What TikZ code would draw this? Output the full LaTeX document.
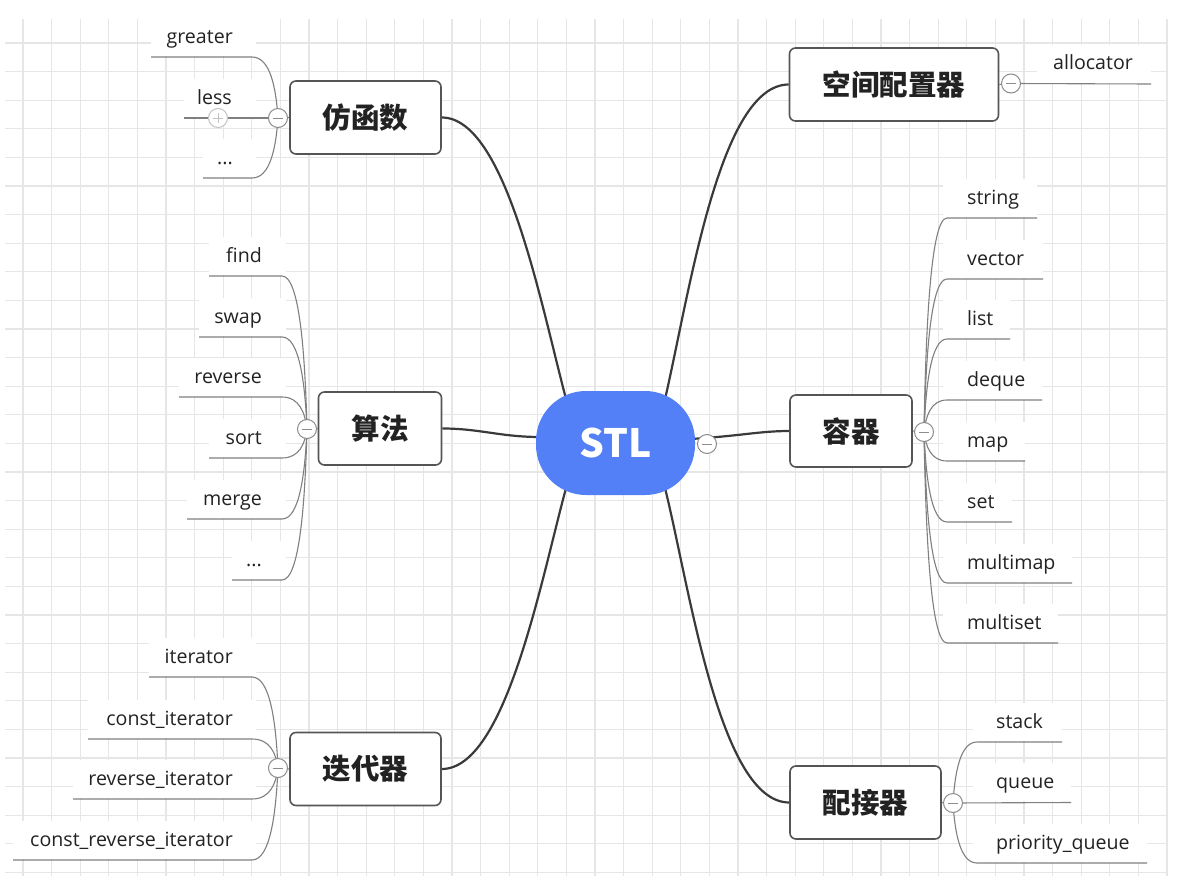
\documentclass[tikz,border=0pt]{standalone}
\usepackage{fontspec}
\newfontfamily\cjk{Noto Sans CJK SC}
\newfontfamily\leaffont{Open Sans}
\usetikzlibrary{calc}
\definecolor{gridc}{RGB}{230,230,230}
\definecolor{connc}{RGB}{58,58,58}
\definecolor{leafc}{RGB}{128,128,128}
\definecolor{boxc}{RGB}{85,85,85}
\definecolor{togc}{RGB}{140,140,140}
\definecolor{plusc}{RGB}{195,195,195}
\definecolor{textc}{RGB}{34,34,34}
\definecolor{stlblue}{RGB}{83,128,246}
\pgfdeclarelayer{gridlayer}
\pgfdeclarelayer{linelayer}
\pgfsetlayers{gridlayer,linelayer,main}
\tikzset{
  gridline/.style={draw=gridc, line width=1.3pt},
  conn/.style={draw=connc, line width=2.2pt},
  leafline/.style={draw=leafc, line width=1.1pt},
  mainbox/.style={draw=boxc, line width=1.6pt, rounded corners=6pt, fill=white,
    text=textc, font=\cjk\bfseries\fontsize{28.5}{30}\selectfont, inner sep=0pt},
  leaftext/.style={text=textc, font=\leaffont\fontsize{19.6}{21}\selectfont, inner sep=0pt},
  tog/.style={circle, draw=togc, fill=white, minimum size=19pt, inner sep=0pt, line width=1pt,
    path picture={\draw[togc, line width=1pt] ([xshift=-5pt]path picture bounding box.center) -- ([xshift=5pt]path picture bounding box.center);}},
  togplus/.style={circle, draw=plusc, fill=white, minimum size=19pt, inner sep=0pt, line width=1pt,
    path picture={\draw[plusc, line width=1pt] ([xshift=-5pt]path picture bounding box.center) -- ([xshift=5pt]path picture bounding box.center)
      ([yshift=-5pt]path picture bounding box.center) -- ([yshift=5pt]path picture bounding box.center);}}
}
\newcommand\leafcurve[3]{%
  \draw[leafline] (#1) -- (#2) let \p1=(#2), \p2=(#3) in
    .. controls ({0.3*\x1+0.7*\x2},\y1) and ({0.92*\x2+0.08*\x1},{0.5*\y1+0.5*\y2}) .. (\p2);}
\begin{document}
\begin{tikzpicture}[x=1pt,y=-1pt]
\useasboundingbox (0,0) rectangle (1187,894);
\begin{pgfonlayer}{gridlayer}
\fill[white] (0,0) rectangle (1187,894);
\foreach \i in {0,...,40} \draw[gridline] ({23+28.6*\i},19) -- ({23+28.6*\i},876);
\foreach \j in {0,...,29} \draw[gridline] (5,{43+28.6*\j}) -- (1167,{43+28.6*\j});
% white label backgrounds
\foreach \a/\b/\c in {151/256/57, 184/256/118, 203/256/178,
  209/286/276, 199/286/337, 179/286/397, 209/286/458, 187/286/519, 232/286/580,
  149/256/677, 88/256/739, 73/256/799, 13/256/860,
  943/1037/218, 943/1043/279, 943/1010/339, 943/1042/400, 943/1025/461, 943/1012/522, 943/1072/583, 943/1058/643,
  973/1062/742, 973/1071/802, 973/1147/863, 1037/1151/84}
  \fill[white] (\a,{\c-39}) rectangle (\b,{\c-1});
\end{pgfonlayer}

% central node
\node[fill=stlblue, minimum width=159pt, minimum height=104pt, rounded corners=50pt,
  text=white, font=\cjk\bfseries\fontsize{39}{40}\selectfont, inner sep=0pt] (stl) at (615.5,443) {STL};

% main topics
\node[mainbox, minimum width=151pt, minimum height=73pt] (fhs) at (365.5,117.5) {仿函数};
\node[mainbox, minimum width=123pt, minimum height=73pt] (sf) at (380,428.5) {算法};
\node[mainbox, minimum width=151pt, minimum height=73pt] (ddq) at (365.5,769) {迭代器};
\node[mainbox, minimum width=209pt, minimum height=73pt] (kj) at (894,84.5) {空间配置器};
\node[mainbox, minimum width=122pt, minimum height=72pt] (rq) at (851,431) {容器};
\node[mainbox, minimum width=151pt, minimum height=73pt] (pjq) at (865.5,802.5) {配接器};

% toggle positions
\coordinate (tstl) at (707,444);
\coordinate (tf) at (278,118);
\coordinate (ta) at (307,429);
\coordinate (ti) at (278,768);
\coordinate (ts) at (1011,83.5);
\coordinate (tr) at (924,432);
\coordinate (tp) at (953,803);
\coordinate (tless) at (218,118);

% leaf labels
\node[leaftext, anchor=base east] (greater) at (233,43) {greater};
\node[leaftext, anchor=base east] (less) at (232,104) {less};
\node[leaftext, anchor=base east] (fdots) at (233,164) {...};

\node[leaftext, anchor=base east] (find) at (262,262) {find};
\node[leaftext, anchor=base east] (swap) at (262,323) {swap};
\node[leaftext, anchor=base east] (reverse) at (262,383) {reverse};
\node[leaftext, anchor=base east] (sort) at (262,444) {sort};
\node[leaftext, anchor=base east] (merge) at (262,505) {merge};
\node[leaftext, anchor=base east] (adots) at (262,566) {...};

\node[leaftext, anchor=base east] (it) at (233,663) {iterator};
\node[leaftext, anchor=base east] (cit) at (233,725) {const\_iterator};
\node[leaftext, anchor=base east] (rit) at (233,785) {reverse\_iterator};
\node[leaftext, anchor=base east] (crit) at (233,846) {const\_reverse\_iterator};

\node[leaftext, anchor=base west] (alloc) at (1053,69) {allocator};

\node[leaftext, anchor=base west] (string) at (967,204) {string};
\node[leaftext, anchor=base west] (vector) at (967,265) {vector};
\node[leaftext, anchor=base west] (list) at (967,325) {list};
\node[leaftext, anchor=base west] (deque) at (967,386) {deque};
\node[leaftext, anchor=base west] (map) at (967,447) {map};
\node[leaftext, anchor=base west] (set) at (967,508) {set};
\node[leaftext, anchor=base west] (multimap) at (967,569) {multimap};
\node[leaftext, anchor=base west] (multiset) at (967,629) {multiset};

\node[leaftext, anchor=base west] (stack) at (996,728) {stack};
\node[leaftext, anchor=base west] (queue) at (996,788) {queue};
\node[leaftext, anchor=base west] (pq) at (996,849) {priority\_queue};

% underline end coordinates
\coordinate (greater-a) at (151,57);  \coordinate (greater-b) at (252,57);
\coordinate (less-a) at (184,118);
\coordinate (fdots-a) at (203,178);   \coordinate (fdots-b) at (252,178);
\foreach \nm/\l/\yy in {find/209/276, swap/199/337, reverse/179/397, sort/209/458, merge/187/519, adots/232/580}{
  \coordinate (\nm-a) at (\l,\yy); \coordinate (\nm-b) at (282,\yy);}
\foreach \nm/\l/\yy in {it/149/677, cit/88/739, rit/73/799, crit/13/860}{
  \coordinate (\nm-a) at (\l,\yy); \coordinate (\nm-b) at (252,\yy);}
\foreach \nm/\r/\yy in {string/1037/218, vector/1043/279, list/1010/339, deque/1042/400, map/1025/461, set/1012/522, multimap/1072/583, multiset/1058/643}{
  \coordinate (\nm-a) at (\r,\yy); \coordinate (\nm-b) at (947,\yy);}
\coordinate (stack-a) at (1062,742); \coordinate (stack-b) at (977,742);
\coordinate (queue-a) at (1071,802.5);
\coordinate (pq-a) at (1147,863); \coordinate (pq-b) at (977,863);
\coordinate (alloc-a) at (1151,84);

\begin{pgfonlayer}{linelayer}
% main connectors
\draw[conn] (fhs.east) .. controls (505,117.5) and (540,300) .. ($(stl.center)+(-50,-46)$);
\draw[conn] (sf.east) .. controls (480,428.5) and (500,437) .. ($(stl.center)+(-75,-6)$);
\draw[conn] (ddq.east) .. controls (505,769) and (540,585) .. ($(stl.center)+(-50,47)$);
\draw[conn] (kj.west) .. controls (720,84.5) and (690,290) .. ($(stl.center)+(50,-46)$);
\draw[conn] ($(stl.center)+(75,-4)$) .. controls (740,436) and (760,431) .. (rq.west);
\draw[conn] (pjq.west) .. controls (720,802.5) and (690,590) .. ($(stl.center)+(50,47)$);

% stubs from toggles to topics
\draw[leafline] (tf) -- (fhs.west);
\draw[leafline] (ta) -- (sf.west);
\draw[leafline] (ti) -- (ddq.west);
\draw[leafline] (ts) -- (kj.east);
\draw[leafline] (tr) -- (rq.east);
\draw[leafline] (tp) -- (pjq.east);

% leaf connectors
\leafcurve{greater-a}{greater-b}{tf}
\draw[leafline] (less-a) -- (tf);
\leafcurve{fdots-a}{fdots-b}{tf}
\leafcurve{find-a}{find-b}{ta}
\leafcurve{swap-a}{swap-b}{ta}
\leafcurve{reverse-a}{reverse-b}{ta}
\leafcurve{sort-a}{sort-b}{ta}
\leafcurve{merge-a}{merge-b}{ta}
\leafcurve{adots-a}{adots-b}{ta}
\leafcurve{it-a}{it-b}{ti}
\leafcurve{cit-a}{cit-b}{ti}
\leafcurve{rit-a}{rit-b}{ti}
\leafcurve{crit-a}{crit-b}{ti}
\leafcurve{string-a}{string-b}{tr}
\leafcurve{vector-a}{vector-b}{tr}
\leafcurve{list-a}{list-b}{tr}
\leafcurve{deque-a}{deque-b}{tr}
\leafcurve{map-a}{map-b}{tr}
\leafcurve{set-a}{set-b}{tr}
\leafcurve{multimap-a}{multimap-b}{tr}
\leafcurve{multiset-a}{multiset-b}{tr}
\leafcurve{stack-a}{stack-b}{tp}
\draw[leafline] (queue-a) -- (tp);
\leafcurve{pq-a}{pq-b}{tp}
\draw[leafline] (alloc-a) -- (ts);
\end{pgfonlayer}

% toggles
\node[tog] (tstln) at (tstl) {};
\node[tog] (tfn) at (tf) {};
\node[tog] (tan) at (ta) {};
\node[tog] (tin) at (ti) {};
\node[tog] (tsn) at (ts) {};
\node[tog] (trn) at (tr) {};
\node[tog] (tpn) at (tp) {};
\node[togplus] (tlessn) at (tless) {};
\end{tikzpicture}
\end{document}
